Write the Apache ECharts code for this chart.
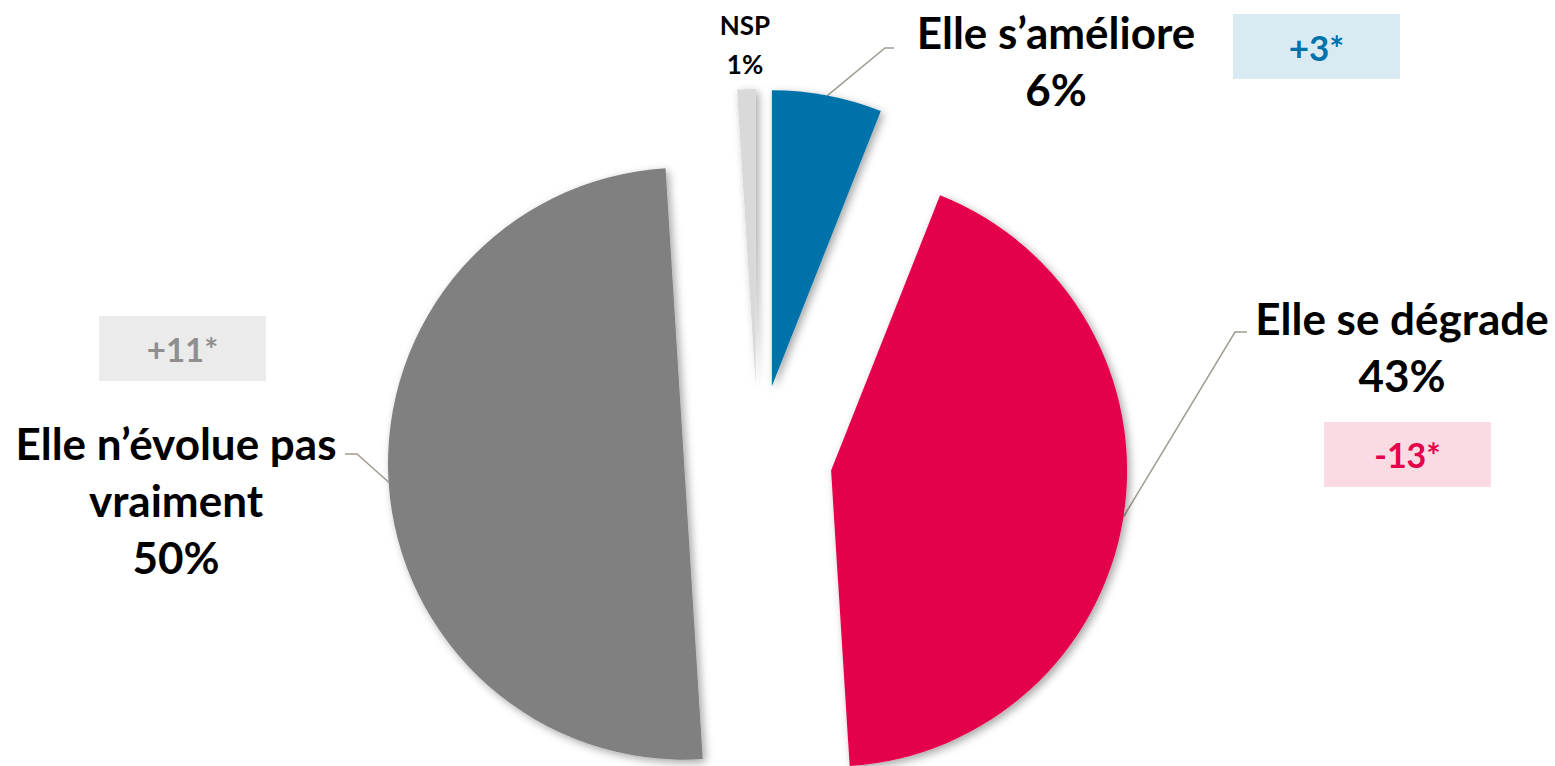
<!DOCTYPE html>
<html>
<head>
<meta charset="utf-8">
<script src="https://cdn.jsdelivr.net/npm/echarts@6/dist/echarts.min.js"></script>
<style>
  html, body { margin: 0; padding: 0; background: #fff; }
  #chart { width: 1555px; height: 766px; }
</style>
</head>
<body>
<div id="chart"></div>
<script>
// données
const categories = ['Elle s’améliore', 'Elle se dégrade', 'Elle n’évolue pas\nvraiment', 'NSP']
const values = [6, 43, 50, 1]
const sliceColors = ['#0072AA', '#E4004B', '#808080', '#D9D9D9']
const changes = ['+3*', '-13*', '+11*']

// mise en page
const PIE_CENTER = [758, 459]
const PIE_RADIUS = 296
const EXPLODE = 74
const FONT = 'Lato'
const labelPos = [
  { x: 1056, y: 60, lineEnd: [894, 48], elbow: [885, 48] },
  { x: 1402, y: 346, lineEnd: [1247, 332], elbow: [1235, 332] },
  { x: 176, y: 500, lineEnd: [345, 454], elbow: [357, 454] },
  { x: 745, y: 44 }
]
const changeBoxes = [
  { x: 1233, y: 14, fill: '#DAEAF3', color: '#0072AA', size: 35 },
  { x: 1324, y: 422, fill: '#FADAE3', color: '#E4004B', size: 34 },
  { x: 99, y: 316, fill: '#EBEBEB', color: '#8F8F8F', size: 33 }
]

const chart = echarts.init(document.getElementById('chart'), null, { renderer: 'svg' })

const total = values.reduce((a, b) => a + b, 0)
let acc = 0
// une série par part, décalée le long de son angle médian (camembert éclaté)
const series = values.map((v, k) => {
  const mid = (acc + v / 2) / total * 2 * Math.PI
  acc += v
  const cx = PIE_CENTER[0] + EXPLODE * Math.sin(mid)
  const cy = PIE_CENTER[1] - EXPLODE * Math.cos(mid)
  return {
    type: 'pie',
    center: [cx, cy],
    radius: PIE_RADIUS,
    startAngle: 90,
    clockwise: true,
    avoidLabelOverlap: false,
    silent: true,
    label: {
      position: 'outside',
      formatter: '{b}\n{c}%',
      fontFamily: FONT,
      fontWeight: 'bold',
      fontSize: k === 3 ? 26 : 44,
      lineHeight: k === 3 ? 39 : 57,
      color: '#000',
      align: 'center'
    },
    labelLine: { lineStyle: { color: '#A29B92', width: 1.5 } },
    labelLayout: (params) => {
      const p = labelPos[params.dataIndex]
      const out = { x: p.x, y: p.y, align: 'center', verticalAlign: 'middle' }
      if (p.lineEnd && params.labelLinePoints) {
        out.labelLinePoints = [params.labelLinePoints[0], p.elbow, p.lineEnd]
      }
      return out
    },
    data: categories.map((name, i) => ({
      name,
      value: values[i],
      itemStyle: i === k
        ? {
            color: sliceColors[i], borderWidth: 0,
            shadowBlur: 8, shadowOffsetX: 3, shadowOffsetY: 3,
            shadowColor: 'rgba(0,0,0,0.35)'
          }
        : { color: 'none', borderWidth: 0 },
      label: { show: i === k },
      labelLine: { show: i === k && k !== 3 }
    }))
  }
})

chart.setOption({
  animation: false,
  series,
  graphic: changes.map((txt, i) => ({
    type: 'group',
    left: changeBoxes[i].x,
    top: changeBoxes[i].y,
    children: [
      { type: 'rect', shape: { x: 0, y: 0, width: 167, height: 65 }, style: { fill: changeBoxes[i].fill } },
      {
        type: 'text',
        x: 83.5, y: 32.5,
        style: {
          text: txt, fill: changeBoxes[i].color,
          font: 'bold ' + changeBoxes[i].size + 'px ' + FONT,
          align: 'center', verticalAlign: 'middle'
        }
      }
    ]
  }))
})
</script>
</body>
</html>
